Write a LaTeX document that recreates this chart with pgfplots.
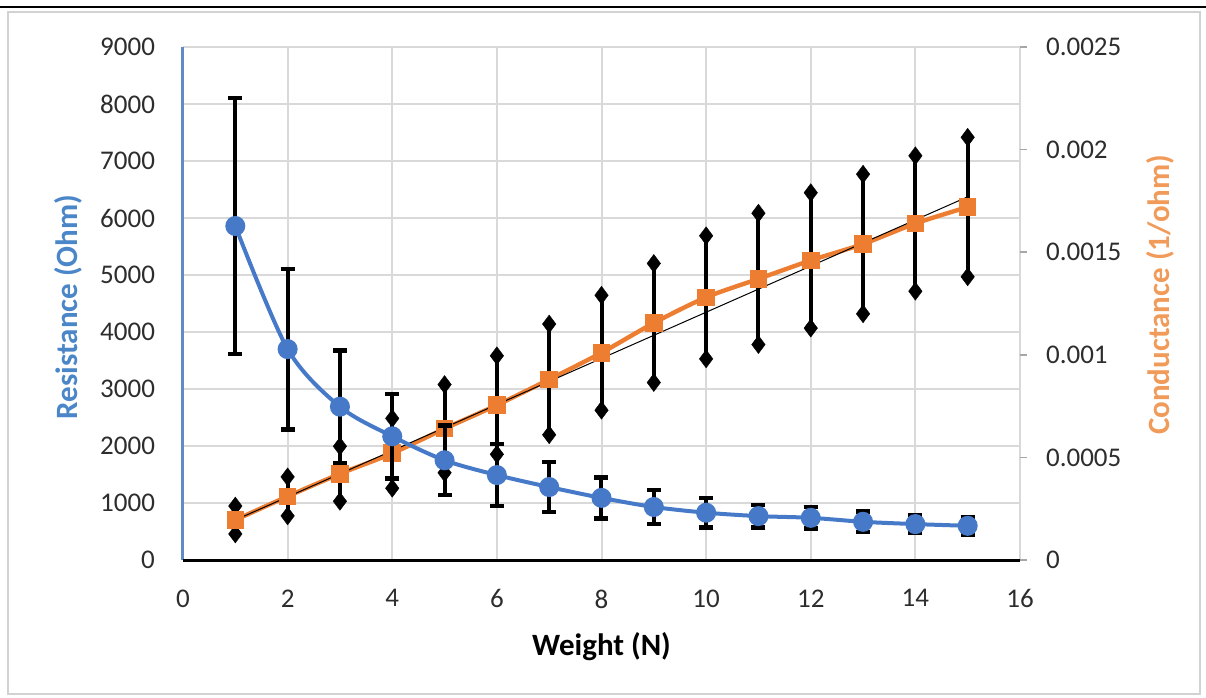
\documentclass[border=0pt]{standalone}
\usepackage{pgfplots}
\usepackage{pgfplotstable}
\pgfplotsset{compat=1.18}
\usepackage{fontspec}
\setmainfont{Carlito}
\definecolor{serblue}{RGB}{70,122,200}
\definecolor{serorange}{RGB}{237,125,49}
\definecolor{labblue}{RGB}{74,134,200}
\definecolor{laborange}{RGB}{241,155,90}
\definecolor{gridgray}{RGB}{217,217,217}
\definecolor{ticktext}{RGB}{45,45,45}
\definecolor{axblue}{RGB}{96,140,196}

\pgfplotstableread{
x r re
1 5860 2250
2 3700 1410
3 2690 985
4 2170 740
5 1750 610
6 1490 540
7 1280 440
8 1090 360
9 930 300
10 830 260
11 770 200
12 740 190
13 670 180
14 630 160
15 600 150
}\restab

\pgfplotstableread{
x c ce
1 0.000195 0.000068
2 0.00031 0.000095
3 0.00042 0.000134
4 0.00052 0.00017
5 0.00064 0.000215
6 0.000755 0.00024
7 0.00088 0.00027
8 0.00101 0.00028
9 0.001155 0.00029
10 0.00128 0.0003
11 0.00137 0.00032
12 0.00146 0.00033
13 0.00154 0.00034
14 0.00164 0.00033
15 0.00172 0.00034
}\condtab

\begin{document}
\begin{tikzpicture}
\pgfplotsset{
  base/.style={
    scale only axis, width=418.5pt, height=256.5pt,
    xmin=0, xmax=16, clip=false,
    xtick={0,2,4,6,8,10,12,14,16},
    axis line style={draw=none},
    major tick length=0pt,
    ticklabel style={font=\fontsize{13.5}{16}\selectfont, text=ticktext},
  }
}
% frame
\draw[gray!35, line width=1pt] (-87.5pt,-67pt) rectangle (508.5pt,274pt);
\draw[black, line width=1pt] (-91.5pt,276.5pt) -- (511.5pt,276.5pt);

% grid axis
\begin{axis}[base, ymin=0, ymax=9000, ytick={0,1000,...,9000},
  grid=major, grid style={gridgray, line width=1pt},
  xticklabels={}, yticklabels={}]
\end{axis}

% conductance axis (right)
\begin{axis}[base, ymin=0, ymax=0.0025,
  xtick=\empty, scaled y ticks=false,
  ytick={0,0.0005,0.001,0.0015,0.002,0.0025},
  yticklabels={0,0.0005,0.001,0.0015,0.002,0.0025},
  ytick pos=right, yticklabel pos=right,
  tick align=outside, major tick length=3.5pt,
  ytick style={draw=gray!70, line width=0.8pt},
  yticklabel style={anchor=west, xshift=6pt},
  ylabel={Conductance (1/ohm)},
  ylabel style={at={(axis description cs:1.1673,0.517)}, anchor=center,
    font=\bfseries\fontsize{15.5}{18}\selectfont, text=laborange},
]
\addplot[only marks, mark=none,
  error bars/.cd, y dir=both, y explicit, error mark=diamond*,
  error bar style={black, line width=2pt},
  error mark options={black, fill=black, mark size=4.5pt, line width=0.2pt, solid, rotate=90}]
  table[x=x, y=c, y error=ce]{\condtab};
\addplot[serorange, line width=2.2pt, smooth, mark=square*, mark size=3.3pt, mark options={serorange, solid}]
  table[x=x, y=c]{\condtab};
\addplot[black, line width=0.5pt] coordinates {(1,0.000195) (15,0.00177)};
\end{axis}

% resistance axis (left)
\begin{axis}[base, ymin=0, ymax=9000,
  ytick={0,1000,...,9000},
  yticklabels={0,1000,2000,3000,4000,5000,6000,7000,8000,9000},
  xticklabels={0,2,4,6,8,10,12,14,16},
  ytick pos=left, xtick pos=bottom,
  yticklabel style={anchor=east, xshift=-10.5pt},
  xticklabel style={anchor=north, yshift=-11.25pt},
  xlabel={Weight (N)},
  xlabel style={at={(axis description cs:0.5,0)}, anchor=center, yshift=-43.5pt,
    font=\bfseries\fontsize{15.5}{18}\selectfont, text=black},
  ylabel={Resistance (Ohm)},
  ylabel style={at={(axis description cs:-0.1374,0.493)}, anchor=center,
    font=\bfseries\fontsize{15.5}{18}\selectfont, text=labblue},
]
\addplot[only marks, mark=none,
  error bars/.cd, y dir=both, y explicit, error mark=-,
  error bar style={black, line width=2pt},
  error mark options={black, line width=2.2pt, mark size=3.5pt, rotate=90}]
  table[x=x, y=r, y error=re]{\restab};
\addplot[serblue, line width=2pt, smooth, mark=*, mark size=4pt, mark options={serblue, solid}]
  table[x=x, y=r]{\restab};
\draw[axblue, line width=1.5pt] (axis cs:0,0) -- (axis cs:0,9000);
\draw[black, line width=1.5pt] (axis cs:0,0) -- (axis cs:16,0);
\end{axis}

\pgfresetboundingbox
\path[use as bounding box] (-91.5pt,-68.5pt) rectangle (511.5pt,280pt);
\end{tikzpicture}
\end{document}
